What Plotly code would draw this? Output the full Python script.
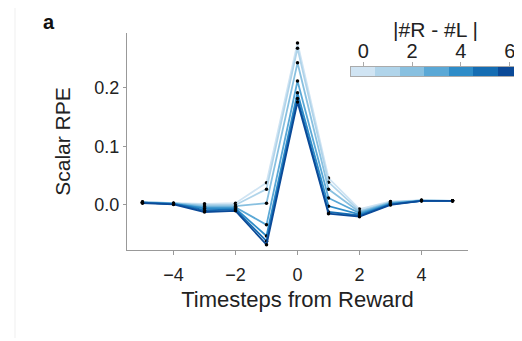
import plotly.graph_objects as go

timesteps = [-5, -4, -3, -2, -1, 0, 1, 2, 3, 4, 5]
diffs = [0, 1, 2, 3, 4, 5, 6]
colors = ['#d0e4f3', '#b0d4ea', '#88c0e0', '#5aa8d6', '#2e8cc8', '#156db3', '#0b4a98']

rpe_d0 = [0.005, 0.003, 0.002, 0.003, 0.038, 0.277, 0.046, -0.007, 0.006, 0.008, 0.007]
rpe_d1 = [0.005, 0.003, 0.000, 0.000, 0.027, 0.268, 0.039, -0.010, 0.005, 0.008, 0.007]
rpe_d2 = [0.005, 0.003, -0.002, -0.002, 0.003, 0.243, 0.027, -0.012, 0.004, 0.008, 0.007]
rpe_d3 = [0.004, 0.002, -0.004, -0.004, -0.034, 0.212, 0.012, -0.014, 0.003, 0.007, 0.007]
rpe_d4 = [0.004, 0.002, -0.006, -0.006, -0.053, 0.192, -0.002, -0.016, 0.002, 0.007, 0.007]
rpe_d5 = [0.004, 0.002, -0.009, -0.008, -0.062, 0.182, -0.012, -0.018, 0.001, 0.007, 0.007]
rpe_d6 = [0.003, 0.001, -0.012, -0.010, -0.068, 0.176, -0.015, -0.020, 0.000, 0.007, 0.007]
series = [rpe_d0, rpe_d1, rpe_d2, rpe_d3, rpe_d4, rpe_d5, rpe_d6]

x_ticks = [-4, -2, 0, 2, 4]
y_ticks = [0.0, 0.1, 0.2]
y_tick_labels = ['0.0', '0.1', '0.2']
cbar_ticks = [0, 2, 4, 6]

fig = go.Figure()
for d, vals, c in zip(diffs, series, colors):
    fig.add_trace(go.Scatter(
        x=timesteps, y=vals, mode='lines+markers',
        line=dict(color=c, width=1.8),
        marker=dict(color='black', size=3.5),
        showlegend=False, hoverinfo='skip'))

# discrete colorbar
fig.add_trace(go.Bar(
    x=diffs, y=[1] * len(diffs), width=1.0,
    marker=dict(color=colors, line=dict(width=0)),
    xaxis='x2', yaxis='y2', showlegend=False, hoverinfo='skip'))

# page body has an 8px margin; work in reference pixel coords shifted by it
OFF = 8
W, H = 522 - OFF, 341 - OFF
L, R, T, B = 127 - OFF, 0, 33 - OFF, 341 - 250
pw = W - L - R
ph = H - T - B
main_right = 468 - OFF


def px_x(x):
    return (x - OFF - L) / pw


def px_y(y):
    return (T + ph - (y - OFF)) / ph


fig.update_layout(
    width=W, height=H,
    margin=dict(l=L, r=R, t=T, b=B),
    paper_bgcolor='white', plot_bgcolor='white',
    font=dict(family='Liberation Sans, Arial, sans-serif', color='#222', size=18),
    bargap=0,
    xaxis=dict(
        domain=[0, (main_right - L) / pw],
        range=[-5.5, 5.5], tickvals=x_ticks,
        ticktext=['\u22124', '\u22122', '0', '2', '4'],
        showline=True, linecolor='#999', linewidth=1,
        ticks='outside', ticklen=4, tickcolor='#999',
        ticklabelstandoff=4,
        showgrid=False, zeroline=False,
        tickfont=dict(size=18),
        title=dict(text='Timesteps from Reward', font=dict(size=22), standoff=8),
    ),
    yaxis=dict(
        range=[-0.077, 0.294], tickvals=y_ticks, ticktext=y_tick_labels,
        showline=True, linecolor='#999', linewidth=1,
        ticks='outside', ticklen=3, tickcolor='#999',
        showgrid=False, zeroline=False,
        tickfont=dict(size=18),
        title=dict(text='Scalar RPE', font=dict(size=21), standoff=18),
    ),
    xaxis2=dict(
        domain=[px_x(351), 1.0], anchor='y2', side='top',
        range=[-0.5, 6.5], tickvals=cbar_ticks,
        showline=True, mirror=True, linecolor='#aaa', linewidth=1,
        ticks='outside', ticklen=4, tickcolor='#aaa',
        ticklabelstandoff=-4,
        showgrid=False, zeroline=False, tickfont=dict(size=20),
    ),
    yaxis2=dict(
        domain=[px_y(76), px_y(67)], anchor='x2',
        range=[0, 1], showticklabels=False, ticks='',
        showline=True, mirror=True, linecolor='#aaa', linewidth=1,
        showgrid=False, zeroline=False,
    ),
    annotations=[
        dict(text='|#R - #L |', xref='paper', yref='paper',
             x=px_x(435), y=px_y(29),
             xanchor='center', yanchor='middle', showarrow=False,
             font=dict(size=21, color='#222')),
        dict(text='<b>a</b>', xref='paper', yref='paper',
             x=px_x(41), y=px_y(22),
             xanchor='left', yanchor='middle', showarrow=False,
             font=dict(size=20, color='#111')),
    ],
    shapes=[
        dict(type='line', xref='paper', yref='paper',
             x0=px_x(15), x1=px_x(15),
             y0=px_y(8), y1=px_y(338),
             line=dict(color='#efefef', width=1)),
    ],
)

fig.write_html('out.html')
